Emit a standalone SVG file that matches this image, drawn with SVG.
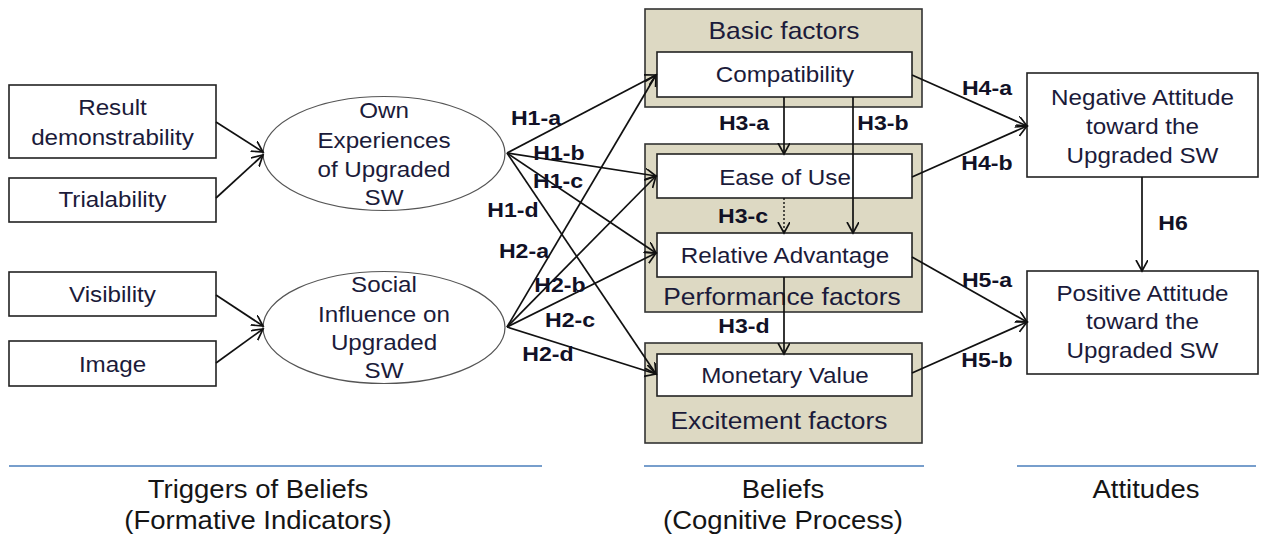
<svg xmlns="http://www.w3.org/2000/svg" width="1269" height="545" viewBox="0 0 1269 545">
<style>
text{font-family:"Liberation Sans",Arial,sans-serif;fill:#1b1b3a;text-anchor:middle;transform-box:fill-box;transform-origin:center;transform:scaleX(1.1)}
.t{font-size:22px}
.g{font-size:24px}
.h{font-size:21px;font-weight:bold;fill:#111126}
.b{font-size:25px;fill:#151515}
.box{fill:#fff;stroke:#222;stroke-width:1.6}
.grp{fill:#ddd9c3;stroke:#333;stroke-width:1.6}
.ell{fill:#fff;stroke:#555;stroke-width:1.2}
.c{fill:none;stroke:#111;stroke-width:1.7;marker-end:url(#arr)}
.dot{stroke-dasharray:2 2;stroke-width:1.4}
.sep{stroke:#4a7ebb;stroke-width:1.6}
</style>
<defs>
<marker id="arr" markerUnits="userSpaceOnUse" markerWidth="14" markerHeight="14" refX="11" refY="6" orient="auto" viewBox="0 0 14 14">
<path d="M0,0 L11,6 L0,12" fill="none" stroke="#111" stroke-width="1.7"/>
</marker>
</defs>

<g id="result"><rect class="box" x="9" y="85" width="207" height="73"/><text class="t" x="112.5" y="115">Result</text><text class="t" x="112.5" y="145">demonstrability</text></g>
<g id="trialability"><rect class="box" x="9" y="178" width="207" height="44"/><text class="t" x="112.5" y="207">Trialability</text></g>
<g id="visibility"><rect class="box" x="9" y="272" width="207" height="44"/><text class="t" x="112.5" y="302">Visibility</text></g>
<g id="image"><rect class="box" x="9" y="341" width="207" height="45"/><text class="t" x="112.5" y="372">Image</text></g>

<g id="own"><ellipse class="ell" cx="384" cy="153.5" rx="121" ry="57"/><text class="t" x="384" y="118">Own</text><text class="t" x="384" y="148">Experiences</text><text class="t" x="384" y="177">of Upgraded</text><text class="t" x="384" y="205">SW</text></g>
<g id="social"><ellipse class="ell" cx="384" cy="327.5" rx="121" ry="56"/><text class="t" x="384" y="292">Social</text><text class="t" x="384" y="322">Influence on</text><text class="t" x="384" y="350">Upgraded</text><text class="t" x="384" y="378">SW</text></g>

<g id="basic"><rect class="grp" x="645" y="9" width="277" height="98"/><text class="g" x="784" y="39">Basic factors</text></g>
<g id="performance"><rect class="grp" x="645" y="144" width="277" height="168"/><text class="g" x="782" y="305">Performance factors</text></g>
<g id="excitement"><rect class="grp" x="645" y="343" width="277" height="100"/><text class="g" x="779" y="429">Excitement factors</text></g>

<g id="compatibility"><rect class="box" x="657" y="52" width="255" height="45"/><text class="t" x="785" y="82">Compatibility</text></g>
<g id="ease"><rect class="box" x="657" y="154" width="255" height="44"/><text class="t" x="785" y="185">Ease of Use</text></g>
<g id="relative"><rect class="box" x="657" y="233" width="255" height="44"/><text class="t" x="785" y="263">Relative Advantage</text></g>
<g id="monetary"><rect class="box" x="657" y="354" width="255" height="42"/><text class="t" x="785" y="383">Monetary Value</text></g>

<g id="negative"><rect class="box" x="1027" y="73" width="231" height="104"/><text class="t" x="1142.5" y="105">Negative Attitude</text><text class="t" x="1142.5" y="134">toward the</text><text class="t" x="1142.5" y="163">Upgraded SW</text></g>
<g id="positive"><rect class="box" x="1027" y="271" width="231" height="103"/><text class="t" x="1142.5" y="301">Positive Attitude</text><text class="t" x="1142.5" y="329">toward the</text><text class="t" x="1142.5" y="358">Upgraded SW</text></g>

<g id="connectors">
<line class="c" x1="216" y1="122" x2="263" y2="152"/>
<line class="c" x1="216" y1="198" x2="263" y2="155"/>
<line class="c" x1="216" y1="295" x2="263" y2="326"/>
<line class="c" x1="216" y1="363" x2="263" y2="329"/>
<line class="c" x1="507" y1="153" x2="656" y2="75"/>
<line class="c" x1="507" y1="153" x2="656" y2="176"/>
<line class="c" x1="507" y1="153" x2="656" y2="253"/>
<line class="c" x1="507" y1="153" x2="656" y2="374"/>
<line class="c" x1="507" y1="327" x2="656" y2="75"/>
<line class="c" x1="507" y1="327" x2="656" y2="176"/>
<line class="c" x1="507" y1="327" x2="656" y2="253"/>
<line class="c" x1="507" y1="327" x2="656" y2="374"/>
<line class="c" x1="784" y1="97" x2="784" y2="154"/>
<line class="c" x1="853" y1="97" x2="853" y2="233"/>
<line class="c dot" x1="784" y1="198" x2="784" y2="233"/>
<line class="c" x1="784" y1="277" x2="784" y2="354"/>
<line class="c" x1="912" y1="75" x2="1027" y2="126"/>
<line class="c" x1="912" y1="177" x2="1027" y2="126"/>
<line class="c" x1="912" y1="257" x2="1027" y2="322"/>
<line class="c" x1="912" y1="373" x2="1027" y2="322"/>
<line class="c" x1="1142" y1="177" x2="1142" y2="271"/>
</g>

<g id="labels">
<text class="h" x="536" y="125">H1-a</text>
<text class="h" x="559" y="160">H1-b</text>
<text class="h" x="558" y="188">H1-c</text>
<text class="h" x="513" y="217">H1-d</text>
<text class="h" x="524" y="258">H2-a</text>
<text class="h" x="560" y="292">H2-b</text>
<text class="h" x="570" y="327">H2-c</text>
<text class="h" x="548" y="361">H2-d</text>
<text class="h" x="744" y="130">H3-a</text>
<text class="h" x="883" y="130">H3-b</text>
<text class="h" x="743" y="223">H3-c</text>
<text class="h" x="744" y="333">H3-d</text>
<text class="h" x="987" y="95">H4-a</text>
<text class="h" x="987" y="170">H4-b</text>
<text class="h" x="987" y="287">H5-a</text>
<text class="h" x="987" y="367">H5-b</text>
<text class="h" x="1173" y="230">H6</text>
</g>

<g id="footer">
<line class="sep" x1="9" y1="466" x2="542" y2="466"/>
<line class="sep" x1="644" y1="466" x2="924" y2="466"/>
<line class="sep" x1="1017" y1="466" x2="1256" y2="466"/>
<text class="b" x="258" y="498">Triggers of Beliefs</text>
<text class="b" x="258" y="529">(Formative Indicators)</text>
<text class="b" x="783" y="498">Beliefs</text>
<text class="b" x="783" y="529">(Cognitive Process)</text>
<text class="b" x="1146" y="498">Attitudes</text>
</g>
</svg>
